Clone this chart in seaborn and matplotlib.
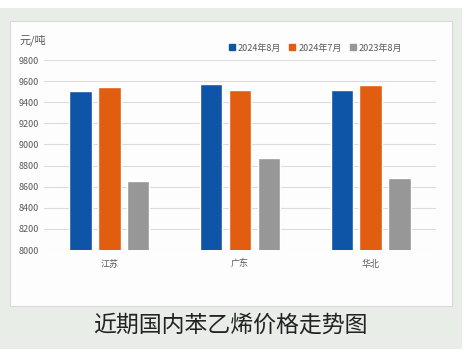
import pandas as pd
import seaborn as sns
import matplotlib.pyplot as plt
from matplotlib.patches import Rectangle
from matplotlib.lines import Line2D

# Data
regions = ["江苏", "广东", "华北"]
series = ["2024年8月", "2024年7月", "2023年8月"]
aug_2024 = [9505, 9570, 9515]
jul_2024 = [9540, 9520, 9560]
aug_2023 = [8650, 8870, 8680]
yticks = [8000, 8200, 8400, 8600, 8800, 9000, 9200, 9400, 9600, 9800]
colors = ["#0E55A7", "#E15E10", "#979797"]

df = pd.DataFrame({
    "region": regions * 3,
    "series": [series[0]] * 3 + [series[1]] * 3 + [series[2]] * 3,
    "price": aug_2024 + jul_2024 + aug_2023,
})

sns.set_theme(style="white")
plt.rcParams["font.family"] = ["Noto Sans CJK SC", "DejaVu Sans"]

W, H = 474, 359
fig = plt.figure(figsize=(W / 100, H / 100), dpi=100)
fig.patch.set_facecolor("white")

# green frame and white panel
fig.add_artist(Rectangle((0, 1 - 349 / H), 462 / W, 341 / H, transform=fig.transFigure,
                         facecolor="#E8EDE7", edgecolor="none", zorder=0))
fig.add_artist(Rectangle((10 / W, 1 - 306 / H), 442 / W, 285 / H, transform=fig.transFigure,
                         facecolor="#FDFDFD", edgecolor="#DADADA", linewidth=0.8, zorder=0))

ax = fig.add_axes([44 / W, 1 - 250 / H, 392 / W, 190 / H])
ax.set_facecolor("none")

sns.barplot(data=df, x="region", y="price", hue="series", palette=colors,
            width=0.66, gap=0.22, ax=ax, legend=False, saturation=1)

ax.set_ylim(8000, 9800)
ax.set_yticks(yticks)
ax.set_xlim(-0.5, 2.5)
ax.yaxis.grid(True, color="#DCDCDC", linewidth=0.8)
ax.set_axisbelow(True)
for s in ax.spines.values():
    s.set_visible(False)
ax.tick_params(axis="both", length=0, labelsize=6.5, labelcolor="#595959")
ax.tick_params(axis="x", pad=7)
ax.set_xlabel("")
ax.set_ylabel("")

handles = [Line2D([], [], marker="s", linestyle="", color=c, markersize=5) for c in colors]
fig.legend(handles, series, loc="center left", bbox_to_anchor=(218 / W, 1 - 48 / H),
           ncol=3, frameon=False, fontsize=6.5, handletextpad=0.1, columnspacing=0.6,
           handlelength=1.2, labelcolor="#595959")

fig.text(20 / W, 1 - 40 / H, "元/吨", fontsize=8, color="#595959", va="center")
fig.text(230 / W, 1 - 325 / H, "近期国内苯乙烯价格走势图", fontsize=16.5, color="#222222",
         ha="center", va="center")

fig.savefig("out.png", dpi=100)
